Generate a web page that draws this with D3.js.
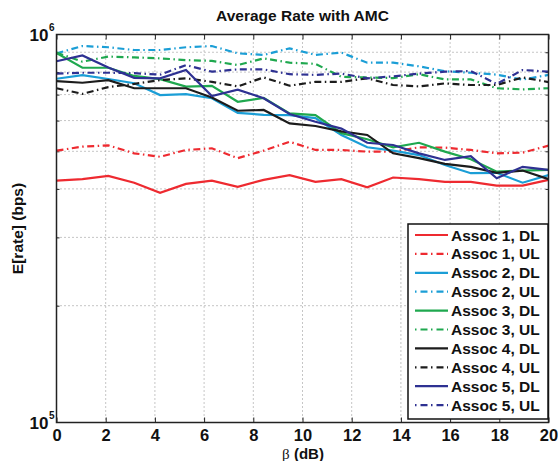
<!DOCTYPE html>
<html>
<head>
<meta charset="utf-8">
<script src="https://d3js.org/d3.v7.min.js"></script>
<style>
  body { margin: 0; background: #fff; }
  text { font-family: "Liberation Sans", Arial, sans-serif; font-weight: bold; }
</style>
</head>
<body>
<div id="chart"></div>
<script>
// beta values (dB), 20 points from 0 to 20
const beta = [0, 1.053, 2.105, 3.158, 4.211, 5.263, 6.316, 7.368, 8.421, 9.474,
              10.526, 11.579, 12.632, 13.684, 14.737, 15.789, 16.842, 17.895, 18.947, 20];

// average rates in kbps
const assoc1DL = [420, 424, 432, 415, 391, 412, 420, 405, 422, 434, 417, 424, 404, 428, 424, 417, 417, 408, 408, 422];
const assoc1UL = [502, 514, 518, 494, 484, 504, 509, 480, 502, 529, 504, 504, 499, 499, 512, 511, 504, 494, 496, 517];
const assoc2DL = [769, 786, 768, 749, 698, 702, 685, 628, 621, 620, 609, 551, 512, 502, 489, 461, 439, 440, 415, 434];
const assoc2UL = [894, 934, 927, 912, 912, 927, 934, 894, 886, 921, 886, 898, 846, 846, 828, 804, 797, 788, 765, 787];
const assoc3DL = [896, 821, 821, 782, 767, 734, 737, 671, 686, 626, 620, 557, 537, 512, 526, 499, 477, 443, 446, 448];
const assoc3UL = [898, 851, 877, 873, 868, 859, 855, 834, 868, 846, 840, 778, 775, 772, 790, 766, 766, 727, 722, 727];
const assoc4DL = [758, 751, 763, 727, 727, 727, 688, 636, 639, 590, 581, 563, 551, 494, 480, 464, 456, 440, 446, 424];
const assoc4UL = [727, 703, 732, 746, 763, 771, 755, 735, 775, 738, 755, 755, 771, 741, 735, 748, 741, 741, 775, 754];
const assoc5DL = [853, 883, 822, 773, 771, 810, 694, 721, 685, 624, 596, 572, 526, 519, 494, 475, 486, 426, 456, 448];
const assoc5UL = [793, 797, 797, 795, 788, 834, 802, 813, 813, 790, 787, 793, 771, 780, 793, 802, 805, 746, 810, 802];

const seriesNames = ["Assoc 1, DL", "Assoc 1, UL", "Assoc 2, DL", "Assoc 2, UL", "Assoc 3, DL",
                     "Assoc 3, UL", "Assoc 4, DL", "Assoc 4, UL", "Assoc 5, DL", "Assoc 5, UL"];
const seriesValues = [assoc1DL, assoc1UL, assoc2DL, assoc2UL, assoc3DL,
                      assoc3UL, assoc4DL, assoc4UL, assoc5DL, assoc5UL];
const colors = ["#ee2a30", "#ee2a30", "#1b9ed6", "#1b9ed6", "#1fa84f",
                "#1fa84f", "#1c1c1c", "#1c1c1c", "#2e3192", "#2e3192"];

const xTicks = [0, 2, 4, 6, 8, 10, 12, 14, 16, 18, 20];
const yMajor = [1e5, 1e6];
const yMinor = [2e5, 3e5, 4e5, 5e5, 6e5, 7e5, 8e5, 9e5];

const W = 558, H = 461;
const plot = {left: 56.5, right: 548.5, top: 34.5, bottom: 422.5};

const svg = d3.select("#chart").append("svg")
    .attr("width", W)
    .attr("height", H);

const x = d3.scaleLinear().domain([0, 20]).range([plot.left, plot.right]);
const y = d3.scaleLog().domain([1e5, 1e6]).range([plot.bottom, plot.top]);

// dotted grid
const grid = svg.append("g")
    .attr("stroke", "#8c8c8c")
    .attr("stroke-width", 1)
    .attr("stroke-dasharray", "1,3");
xTicks.slice(1, -1).forEach(t => {
    grid.append("line")
        .attr("x1", x(t)).attr("x2", x(t))
        .attr("y1", plot.top).attr("y2", plot.bottom);
});
yMinor.forEach(t => {
    grid.append("line")
        .attr("x1", plot.left).attr("x2", plot.right)
        .attr("y1", y(t)).attr("y2", y(t));
});

// axes with inward ticks
svg.append("g")
    .attr("transform", `translate(0,${plot.bottom})`)
    .call(d3.axisBottom(x).tickValues(xTicks).tickSize(-5).tickPadding(7))
    .call(g => g.selectAll("text").attr("font-size", 16.5).attr("font-weight", "bold")
        .attr("font-family", '"Liberation Sans", Arial, sans-serif').attr("fill", "#111"));
svg.append("g")
    .attr("transform", `translate(0,${plot.top})`)
    .call(d3.axisTop(x).tickValues(xTicks).tickSize(-5).tickFormat(""));
svg.append("g")
    .attr("transform", `translate(${plot.left},0)`)
    .call(d3.axisLeft(y).tickValues(yMinor).tickSize(-3).tickFormat(""));
svg.append("g")
    .attr("transform", `translate(${plot.right},0)`)
    .call(d3.axisRight(y).tickValues(yMinor).tickSize(-3).tickFormat(""));
svg.selectAll(".domain").remove();
svg.selectAll(".tick line").attr("stroke", "#222");

// y tick labels as 10^n
yMajor.forEach(v => {
    svg.append("text")
        .attr("x", plot.left - 8)
        .attr("y", y(v) + 6.5)
        .attr("text-anchor", "end")
        .attr("font-size", 17)
        .attr("fill", "#111")
        .text("10");
    svg.append("text")
        .attr("x", plot.left - 7.5)
        .attr("y", y(v) - 3.5)
        .attr("font-size", 10)
        .attr("fill", "#111")
        .text(Math.round(Math.log10(v)));
});

// series lines
svg.append("clipPath").attr("id", "clip")
    .append("rect")
    .attr("x", plot.left).attr("y", plot.top)
    .attr("width", plot.right - plot.left).attr("height", plot.bottom - plot.top);

const line = d3.line()
    .x((d, i) => x(beta[i]))
    .y(d => y(d * 1000));

const lines = svg.append("g").attr("clip-path", "url(#clip)");
seriesValues.forEach((vals, k) => {
    lines.append("path")
        .datum(vals)
        .attr("fill", "none")
        .attr("stroke", colors[k])
        .attr("stroke-width", 2.2)
        .attr("stroke-dasharray", k % 2 === 1 ? "7,3.5,1.5,3.5" : null)
        .attr("d", line);
});

// plot box
svg.append("rect")
    .attr("x", plot.left).attr("y", plot.top)
    .attr("width", plot.right - plot.left).attr("height", plot.bottom - plot.top)
    .attr("fill", "none")
    .attr("stroke", "#222")
    .attr("stroke-width", 1.5);

// title and axis labels
svg.append("text")
    .attr("x", (plot.left + plot.right) / 2)
    .attr("y", 21)
    .attr("text-anchor", "middle")
    .attr("font-size", 15.5)
    .attr("fill", "#111")
    .text("Average Rate with AMC");

svg.append("text")
    .attr("transform", "rotate(-90)")
    .attr("x", -(plot.top + plot.bottom) / 2)
    .attr("y", 22.5)
    .attr("text-anchor", "middle")
    .attr("font-size", 15.5)
    .attr("fill", "#111")
    .text("E[rate] (bps)");

const xl = svg.append("text")
    .attr("x", 303)
    .attr("y", 458.5)
    .attr("text-anchor", "middle")
    .attr("font-size", 15)
    .attr("fill", "#111");
xl.append("tspan")
    .attr("font-family", '"Liberation Serif", "DejaVu Serif", serif')
    .attr("font-weight", "normal")
    .text("\u03B2");
xl.append("tspan").text(" (dB)");

// legend
const legend = svg.append("g").attr("transform", "translate(408,224)");
legend.append("rect")
    .attr("width", 140).attr("height", 195)
    .attr("fill", "#fff")
    .attr("stroke", "#111")
    .attr("stroke-width", 1.5);

seriesNames.forEach((name, k) => {
    const ly = 11 + k * 18.9;
    legend.append("line")
        .attr("x1", 7).attr("x2", 40)
        .attr("y1", ly).attr("y2", ly)
        .attr("stroke", colors[k])
        .attr("stroke-width", 2.2)
        .attr("stroke-dasharray", k % 2 === 1 ? "1.5,4,7,3.5" : null);
    legend.append("text")
        .attr("x", 43)
        .attr("y", ly + 5.5)
        .attr("font-size", 15.5)
        .attr("fill", "#111")
        .text(name);
});
</script>
</body>
</html>
